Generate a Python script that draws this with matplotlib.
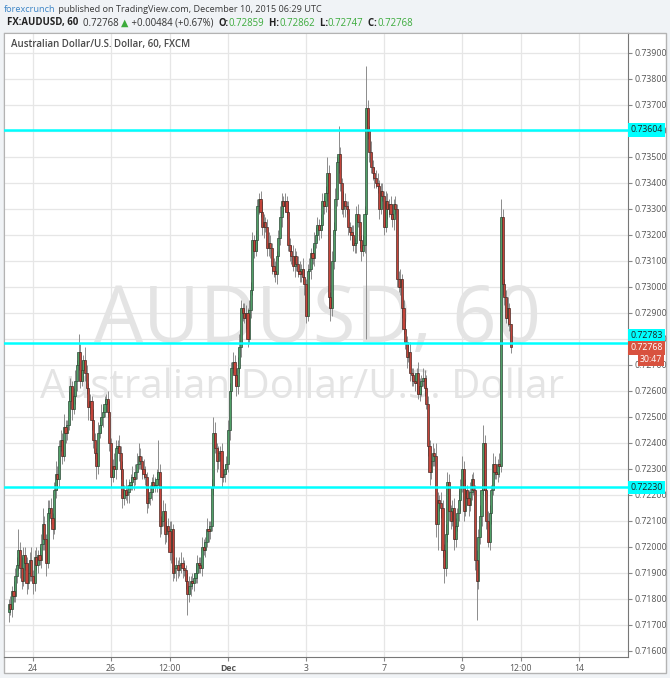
import matplotlib
matplotlib.use("Agg")
import matplotlib.pyplot as plt
import matplotlib.transforms as mtransforms
from matplotlib.patches import Rectangle
import numpy as np

plt.rcParams['font.family'] = ['Open Sans', 'DejaVu Sans']

# AUDUSD hourly candles, bar 0 = Nov 24 00:00 UTC (weekend hours skipped)
bar_start = -15
first_open = 0.7175
closes = [
    0.7178, 0.7176, 0.7183, 0.7181, 0.7189, 0.7193, 0.7199, 0.7192, 0.7187, 0.7197,
    0.7194, 0.7186, 0.7190, 0.7195, 0.7189, 0.7186, 0.7196, 0.7193, 0.7197, 0.7195,
    0.7201, 0.7209, 0.7203, 0.7194, 0.7213, 0.7215, 0.7211, 0.7207, 0.7222, 0.7228,
    0.7226, 0.7239, 0.7241, 0.7235, 0.7246, 0.7244, 0.7247, 0.7256, 0.7262, 0.7253,
    0.7258, 0.7264, 0.7270, 0.7275, 0.7264, 0.7268, 0.7272, 0.7267, 0.7261, 0.7254,
    0.7256, 0.7249, 0.7241, 0.7236, 0.7231, 0.7244, 0.7247, 0.7250, 0.7252, 0.7255,
    0.7257, 0.7252, 0.7240, 0.7227, 0.7231, 0.7230, 0.7238, 0.7239, 0.7236, 0.7230,
    0.7219, 0.7222, 0.7220, 0.7221, 0.7224, 0.7225, 0.7227, 0.7226, 0.7229, 0.7232,
    0.7235, 0.7233, 0.7230, 0.7228, 0.7227, 0.7217, 0.7219, 0.7221, 0.7225, 0.7223,
    0.7224, 0.7226, 0.7229, 0.7208, 0.7210, 0.7214, 0.7205, 0.7208, 0.7206, 0.7198,
    0.7207, 0.7190, 0.7192, 0.7193, 0.7191, 0.7193, 0.7194, 0.7192, 0.7191, 0.7187,
    0.7182, 0.7185, 0.7187, 0.7186, 0.7188, 0.7190, 0.7194, 0.7193, 0.7192, 0.7200,
    0.7199, 0.7202, 0.7207, 0.7206, 0.7208, 0.7223, 0.7244, 0.7238, 0.7233, 0.7236,
    0.7237, 0.7227, 0.7228, 0.7230, 0.7232, 0.7245, 0.7260, 0.7269, 0.7271, 0.7266,
    0.7262, 0.7269, 0.7277, 0.7292, 0.7290, 0.7288, 0.7290, 0.7280, 0.7291, 0.7299,
    0.7318, 0.7314, 0.7318, 0.7331, 0.7334, 0.7329, 0.7323, 0.7325, 0.7323, 0.7315,
    0.7317, 0.7315, 0.7308, 0.7306, 0.7305, 0.7312, 0.7319, 0.7327, 0.7333, 0.7331,
    0.7333, 0.7329, 0.7316, 0.7314, 0.7312, 0.7308, 0.7312, 0.7309, 0.7306, 0.7305,
    0.7307, 0.7304, 0.7301, 0.7289, 0.7306, 0.7307, 0.7313, 0.7311, 0.7317, 0.7320,
    0.7324, 0.7322, 0.7324, 0.7333, 0.7331, 0.7336, 0.7344, 0.7296, 0.7292, 0.7310,
    0.7322, 0.7334, 0.7348, 0.7351, 0.7340, 0.7330, 0.7333, 0.7331, 0.7330, 0.7323,
    0.7321, 0.7320, 0.7316, 0.7317, 0.7328, 0.7325, 0.7318, 0.7314, 0.7316, 0.7328,
    0.7369, 0.7360, 0.7352, 0.7346, 0.7344, 0.7342, 0.7340, 0.7339, 0.7330, 0.7337,
    0.7335, 0.7323, 0.7333, 0.7330, 0.7332, 0.7328, 0.7326, 0.7332, 0.7330, 0.7303,
    0.7300, 0.7303, 0.7292, 0.7284, 0.7279, 0.7273, 0.7275, 0.7267, 0.7266, 0.7264,
    0.7263, 0.7267, 0.7259, 0.7262, 0.7264, 0.7265, 0.7261, 0.7255, 0.7239, 0.7229,
    0.7233, 0.7236, 0.7235, 0.7209, 0.7218, 0.7217, 0.7215, 0.7199, 0.7192, 0.7205,
    0.7225, 0.7214, 0.7210, 0.7215, 0.7203, 0.7208, 0.7213, 0.7218, 0.7223, 0.7230,
    0.7214, 0.7222, 0.7219, 0.7216, 0.7221, 0.7226, 0.7222, 0.7195, 0.7187, 0.7204,
    0.7212, 0.7222, 0.7240, 0.7222, 0.7210, 0.7202, 0.7213, 0.7222, 0.7232, 0.7229,
    0.7228, 0.7232, 0.7231, 0.7327, 0.7301, 0.7296, 0.7288, 0.7292, 0.72859, 0.72768,
]
# wick lengths above / below the body, in pips
up_wick = [
    2, 3, 2, 4, 3, 3, 8, 3, 4, 3,  3, 2, 4, 3, 5, 2, 3, 4, 2, 3,
    4, 6, 3, 2, 5, 3, 4, 2, 3, 5,  3, 2, 4, 3, 5, 3, 2, 4, 3, 2,
    3, 4, 2, 7, 3, 4, 2, 5, 3, 2,  3, 2, 4, 3, 2, 4, 3, 5, 2, 3,
    2, 3, 4, 2, 3, 5, 3, 2, 4, 3,  3, 2, 4, 3, 2, 3, 4, 2, 3, 4,
    5, 3, 2, 4, 3, 2, 4, 3, 2, 3,  3, 4, 12, 3, 2, 4, 3, 2, 3, 4,
    3, 2, 4, 3, 2, 3, 4, 2, 3, 2,  3, 4, 2, 3, 2, 4, 3, 2, 3, 4,
    3, 2, 4, 3, 2, 3, 6, 4, 2, 3,  2, 3, 4, 2, 3, 4, 3, 2, 4, 3,
    3, 4, 5, 3, 2, 4, 3, 2, 4, 3,  3, 2, 4, 3, 2, 3, 4, 3, 2, 3,
    4, 3, 2, 3, 4, 2, 3, 4, 3, 2,  3, 2, 4, 3, 2, 4, 3, 2, 3, 4,
    2, 4, 3, 2, 3, 4, 2, 3, 4, 3,  3, 2, 4, 3, 2, 3, 6, 3, 2, 4,
    3, 4, 2, 11, 3, 2, 4, 3, 2, 3,  2, 3, 4, 2, 3, 4, 3, 2, 4, 3,
    16, 3, 2, 4, 3, 2, 3, 4, 2, 3,  3, 2, 4, 3, 2, 3, 4, 2, 3, 2,
    3, 4, 2, 3, 4, 2, 3, 4, 2, 3,  3, 2, 4, 3, 2, 4, 3, 5, 3, 2,
    3, 4, 2, 5, 3, 2, 4, 3, 2, 4,  4, 3, 2, 3, 4, 3, 2, 4, 3, 5,
    3, 4, 2, 3, 4, 2, 3, 2, 4, 3,  4, 2, 7, 3, 2, 4, 3, 2, 4, 3,
    3, 2, 4, 7, 3, 2, 3, 4, 2, 0,
]
dn_wick = [
    4, 2, 3, 2, 2, 3, 2, 4, 3, 2,  3, 4, 2, 3, 2, 4, 3, 2, 3, 2,
    3, 2, 4, 5, 2, 3, 2, 4, 2, 3,  4, 3, 2, 3, 2, 4, 3, 2, 3, 4,
    2, 3, 4, 2, 3, 2, 4, 3, 2, 5,  3, 4, 3, 2, 5, 3, 2, 3, 4, 2,
    3, 2, 3, 4, 2, 3, 4, 2, 3, 4,  4, 3, 2, 3, 4, 2, 3, 4, 2, 3,
    2, 3, 4, 2, 3, 4, 2, 3, 3, 2,  2, 3, 2, 4, 3, 2, 4, 3, 2, 3,
    4, 3, 2, 5, 3, 2, 3, 4, 2, 3,  8, 3, 4, 2, 3, 2, 4, 3, 2, 3,
    2, 3, 2, 4, 3, 2, 3, 2, 4, 3,  3, 4, 2, 3, 2, 3, 4, 3, 2, 4,
    4, 3, 2, 4, 3, 2, 4, 3, 2, 3,  2, 3, 2, 4, 3, 2, 3, 4, 2, 3,
    3, 4, 3, 2, 3, 4, 2, 3, 4, 3,  2, 3, 2, 4, 3, 2, 4, 3, 2, 3,
    3, 2, 4, 3, 2, 3, 4, 2, 3, 2,  2, 4, 3, 2, 3, 2, 3, 4, 5, 3,
    3, 2, 3, 4, 3, 2, 3, 4, 2, 3,  3, 4, 2, 3, 4, 2, 3, 4, 2, 3,
    48, 3, 4, 2, 3, 4, 2, 3, 4, 2,  2, 3, 2, 4, 3, 2, 3, 4, 2, 3,
    2, 3, 4, 2, 3, 4, 2, 3, 4, 2,  3, 4, 2, 3, 4, 2, 3, 2, 4, 5,
    3, 2, 4, 5, 10, 3, 4, 3, 6, 3,  3, 4, 3, 2, 4, 3, 2, 3, 4, 2,
    4, 2, 3, 4, 2, 3, 2, 4, 15, 3,  3, 4, 2, 4, 3, 2, 3, 4, 2, 3,
    2, 3, 4, 2, 4, 3, 2, 3, 3, 2,
]

tick_pos = [0, 48, 84, 120, 168, 216, 264, 300, 336]
tick_labels = ['24', '26', '12:00', 'Dec', '3', '7', '9', '12:00', '14']
price_ticks = [0.716, 0.717, 0.718, 0.719, 0.720, 0.721, 0.722, 0.723, 0.724, 0.725,
               0.726, 0.727, 0.728, 0.729, 0.730, 0.731, 0.732, 0.733, 0.734, 0.735,
               0.736, 0.737, 0.738, 0.739]
levels = [0.73604, 0.72783, 0.72230]
last_price = 0.72768
countdown = '30:47'

green = '#51a068'
red = '#c4443a'
header_green = '#3cab3c'
cyan = '#00ffff'

W, H = 670, 678
fig = plt.figure(figsize=(W / 100, H / 100), dpi=100)
fig.patch.set_facecolor('#f0f3f6')

# white panel behind the chart
fig.patches.append(Rectangle((4 / W, 5 / H), 662 / W, 640 / H, transform=fig.transFigure,
                             facecolor='white', edgecolor='#b3b3b3', lw=1, zorder=-5))

ax = fig.add_axes([4 / W, 21 / H, 624 / W, 624 / H])
ax.set_facecolor('white')
ax.set_xlim(-17.85, 366.15)
ax.set_ylim(0.715769, 0.739769)

ax.set_yticks(price_ticks)
ax.set_yticklabels(['%.5f' % p for p in price_ticks])
ax.yaxis.tick_right()
ax.set_xticks(tick_pos)
ax.set_xticklabels(tick_labels)
for lab in ax.get_xticklabels():
    if lab.get_text() == 'Dec':
        lab.set_fontweight('bold')
ax.tick_params(axis='y', length=3, color='#888888', labelsize=6.3, labelcolor='#555555', pad=1.5)
ax.tick_params(axis='x', length=3, color='#888888', labelsize=6.3, labelcolor='#555555', pad=2)
ax.grid(True, color='#e6e6e6', lw=0.9)
ax.set_axisbelow(True)
for s in ['left', 'top']:
    ax.spines[s].set_color('#b3b3b3')
for s in ['right', 'bottom']:
    ax.spines[s].set_color('#777777')

# watermark
ax.text(0.503, 0.505, 'AUDUSD, 60', transform=ax.transAxes, ha='center', va='baseline',
        fontsize=56, color='#e4e4e4', zorder=1)
ax.text(0.478, 0.415, 'Australian Dollar/U.S. Dollar', transform=ax.transAxes, ha='center',
        va='baseline', fontsize=29, color='#e4e4e4', zorder=1)

ax.text(0.011, 0.982, 'Australian Dollar/U.S. Dollar, 60, FXCM', transform=ax.transAxes,
        ha='left', va='center', fontsize=7, color='#4a4a4a', fontweight='semibold', zorder=6)

# candles
c = np.array(closes)
o = np.r_[first_open, c[:-1]]
hi = np.maximum(o, c) + np.array(up_wick) * 1e-4
lo = np.minimum(o, c) - np.array(dn_wick) * 1e-4
x = np.arange(bar_start, bar_start + len(c))
rise = c >= o
ax.vlines(x, lo, hi, color='#8c8c8c', lw=0.7, zorder=3)
ax.bar(x[rise], (c - o)[rise], bottom=o[rise], width=1.3, color=green,
       edgecolor='#2e4a38', lw=0.5, zorder=4)
ax.bar(x[~rise], (c - o)[~rise], bottom=o[~rise], width=1.3, color=red,
       edgecolor='#4a2a26', lw=0.5, zorder=4)

for lv in levels:
    ax.axhline(lv, color=cyan, lw=1.8, zorder=5)

# price axis labels
tr = mtransforms.blended_transform_factory(ax.transAxes, ax.transData)
label_y = {0.73604: 0.73604, 0.72783: 0.72813, 0.72230: 0.72230}
for lv in levels:
    ax.text(1.004, label_y[lv], '%.5f' % lv, transform=tr, ha='left', va='center',
            fontsize=6.3, color='#222222', clip_on=False, zorder=7,
            bbox=dict(boxstyle='square,pad=0.25', fc=cyan, ec='none'))
ax.text(1.004, last_price - 0.00002, '%.5f' % last_price, transform=tr, ha='left', va='center',
        fontsize=6.3, color='white', clip_on=False, zorder=7,
        bbox=dict(boxstyle='square,pad=0.25', fc='#d8523f', ec='none'))
ax.text(1.055, last_price - 0.00048, countdown, transform=tr, ha='right', va='center',
        fontsize=6.3, color='white', clip_on=False, zorder=7,
        bbox=dict(boxstyle='square,pad=0.2', fc='#d8523f', ec='none'))


# header text, drawn piece by piece
def header(pieces, x0, y0, size):
    prev = fig.text(x0 / W, 1 - y0 / H, pieces[0][0], color=pieces[0][1],
                    fontweight=pieces[0][2], fontsize=size, va='center', ha='left')
    for s, col, wt in pieces[1:]:
        prev = ax.annotate(s, xy=(1, 0), xycoords=prev, xytext=(0, 0), textcoords='offset points',
                           color=col, fontweight=wt, fontsize=size, va='bottom', ha='left',
                           annotation_clip=False)


header([('forexcrunch', '#3d85c6', 'normal'),
        (' published on TradingView.com, December 10, 2015 06:29 UTC', '#3a3a3a', 'normal')],
       4, 9, 6.6)
header([('FX:AUDUSD, 60', '#222222', 'bold'),
        ('  0.72768 ', '#333333', 'normal'),
        ('▲', header_green, 'normal'),
        (' +0.00484 (+0.67%)  ', '#333333', 'normal'),
        ('O:', '#222222', 'bold'), ('0.72859', header_green, 'normal'),
        ('  H:', '#222222', 'bold'), ('0.72862', header_green, 'normal'),
        ('  L:', '#222222', 'bold'), ('0.72747', header_green, 'normal'),
        ('  C:', '#222222', 'bold'), ('0.72768', header_green, 'normal')], 7, 23, 6.9)

fig.savefig('out.png', dpi=100, facecolor=fig.get_facecolor())
